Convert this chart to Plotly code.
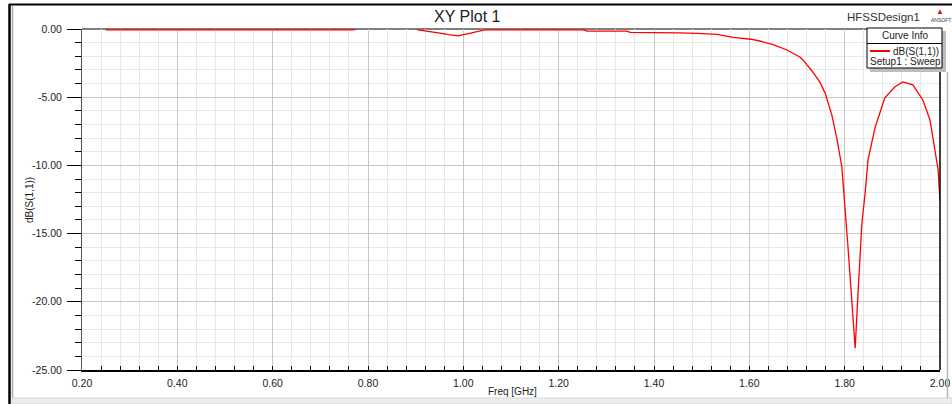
import plotly.graph_objects as go

# ---- data ----
freq_ghz = [0.25, 0.40, 0.60, 0.77, 0.785, 0.90, 0.905, 0.93, 0.951, 0.97, 0.989,
            1.008, 1.03, 1.045, 1.10, 1.20, 1.251, 1.26, 1.343, 1.35, 1.406, 1.45,
            1.49, 1.532, 1.566, 1.603, 1.622, 1.65, 1.679, 1.706, 1.7125,
            1.733, 1.748, 1.759, 1.773, 1.784, 1.794, 1.801, 1.807, 1.815, 1.822, 1.828,
            1.836, 1.843, 1.849, 1.864, 1.884, 1.905, 1.922, 1.943, 1.964, 1.979,
            1.989, 1.996, 2.00]
s11_db = [-0.07, -0.07, -0.07, -0.07, 0.2, 0.2, -0.07, -0.18, -0.30, -0.42, -0.50,
          -0.35, -0.15, -0.07, -0.06, -0.06, -0.06, -0.15, -0.16, -0.25, -0.25, -0.28,
          -0.32, -0.40, -0.62, -0.75, -0.88, -1.15, -1.54, -2.05, -2.27,
          -3.15, -3.90, -4.70, -6.30, -8.10, -10.10, -13.00, -16.00, -19.90, -23.40, -19.40,
          -14.30, -12.00, -9.60, -7.20, -5.06, -4.25, -3.88, -4.10, -5.20, -6.67,
          -8.65, -10.30, -12.60]

x_tickvals = [0.2, 0.4, 0.6, 0.8, 1.0, 1.2, 1.4, 1.6, 1.8, 2.0]
x_ticktext = ["0.20", "0.40", "0.60", "0.80", "1.00", "1.20", "1.40", "1.60", "1.80", "2.00"]
y_tickvals = [0, -5, -10, -15, -20, -25]
y_ticktext = ["0.00", "-5.00", "-10.00", "-15.00", "-20.00", "-25.00"]

series_name = "dB(S(1,1))"
setup_name = "Setup1 : Sweep"
title_text = "XY Plot 1"
design_name = "HFSSDesign1"

# ---- geometry helpers (pixel -> paper) ----
W, H = 952, 404
L, R, T, B = 82, 940, 29, 370


def px(x):
    return (x - L) / (R - L)


def py(y):
    return (B - y) / (B - T)


FONT = "Liberation Sans, Arial, sans-serif"

fig = go.Figure()
fig.add_trace(go.Scatter(
    x=freq_ghz, y=s11_db, mode="lines", name=series_name,
    line=dict(color="#ff0000", width=1.3), showlegend=False,
))

fig.update_layout(
    width=W, height=H,
    margin=dict(l=L, r=W - R, t=T, b=H - B, autoexpand=False),
    paper_bgcolor="white", plot_bgcolor="white",
    font=dict(family=FONT, size=10.5, color="#222"),
    showlegend=False,
)

fig.update_xaxes(
    range=[0.2, 2.0], tickvals=x_tickvals, ticktext=x_ticktext,
    showline=True, linecolor="#000", linewidth=2,
    ticks="inside", ticklen=4, tickcolor="#000",
    showgrid=True, gridcolor="#c6c6c6", gridwidth=1,
    zeroline=False, layer="below traces", ticklabelstandoff=2,
    minor=dict(dtick=0.04, tick0=0.2, ticks="inside", ticklen=4, tickcolor="#000",
               showgrid=True, gridcolor="#e8e8e8", gridwidth=1),
)
fig.update_yaxes(
    range=[-25, 0], tickvals=y_tickvals, ticktext=y_ticktext,
    showline=True, linecolor="#555", linewidth=1,
    ticks="outside", ticklen=14, tickcolor="#000", tickwidth=1.3,
    showgrid=True, gridcolor="#c6c6c6", gridwidth=1,
    zeroline=False, layer="below traces", ticklabelstandoff=3,
    minor=dict(dtick=1, ticks="outside", ticklen=6, tickcolor="#000", tickwidth=1,
               showgrid=True, gridcolor="#e8e8e8", gridwidth=1),
)

shapes = []
# outer frame
shapes.append(dict(type="line", xref="paper", yref="paper", x0=px(9), x1=px(952),
                   y0=py(4.5), y1=py(4.5), line=dict(color="#000", width=2)))
shapes.append(dict(type="line", xref="paper", yref="paper", x0=px(9.5), x1=px(9.5),
                   y0=py(4), y1=py(404), line=dict(color="#000", width=2.5)))
shapes.append(dict(type="line", xref="paper", yref="paper", x0=px(12.5), x1=px(12.5),
                   y0=py(6), y1=py(398), line=dict(color="#a8a8a8", width=1.5)))
shapes.append(dict(type="rect", xref="paper", yref="paper", x0=px(12), x1=px(952),
                   y0=py(404), y1=py(398), fillcolor="#eeeeee",
                   line=dict(color="#d6d6d6", width=1)))
shapes.append(dict(type="line", xref="paper", yref="paper", x0=px(947.5), x1=px(947.5),
                   y0=py(72), y1=py(398), line=dict(color="#b8b8b8", width=1.5)))
# plot top and right borders
shapes.append(dict(type="line", xref="paper", yref="paper", x0=0, x1=1, y0=1, y1=1,
                   line=dict(color="#000", width=1), layer="below"))
shapes.append(dict(type="line", xref="paper", yref="paper", x0=1, x1=1, y0=0, y1=1,
                   line=dict(color="#000", width=1.5)))
# legend box "Curve Info"
shapes.append(dict(type="rect", xref="paper", yref="paper", x0=px(870), x1=px(946),
                   y0=py(72), y1=py(31), fillcolor="#bdbdbd", line=dict(width=0)))
shapes.append(dict(type="rect", xref="paper", yref="paper", x0=px(867), x1=px(942),
                   y0=py(68), y1=py(28), fillcolor="white", line=dict(color="#000", width=1)))
shapes.append(dict(type="line", xref="paper", yref="paper", x0=px(867), x1=px(942),
                   y0=py(43.5), y1=py(43.5), line=dict(color="#000", width=1)))
shapes.append(dict(type="line", xref="paper", yref="paper", x0=px(870), x1=px(890),
                   y0=py(51), y1=py(51), line=dict(color="#ff0000", width=2)))
fig.update_layout(shapes=shapes)


def note(text, x, y, size, xanchor="center", angle=0, color="#222"):
    return dict(text=text, x=px(x), y=py(y), xref="paper", yref="paper",
                xanchor=xanchor, yanchor="middle", textangle=angle,
                showarrow=False, font=dict(size=size, color=color, family=FONT))


ann = [
    note(title_text, 467, 16.5, 16),
    note(design_name, 922, 16.5, 11.5, xanchor="right", color="#333"),
    note("▲", 940, 11, 8, color="#d42020"),
    note("ANSOFT", 941, 20, 5, color="#333"),
    note("Curve Info", 905, 35.5, 10),
    note(series_name, 941, 51, 10, xanchor="right"),
    note(setup_name, 868, 61, 10, xanchor="left"),
    note(series_name, 29, 200, 10, angle=-90),
    note("Freq [GHz]", 512, 391, 10),
]
fig.update_layout(annotations=ann)

fig.write_html("out.html", config={"displayModeBar": False},
               post_script="document.body.style.margin='0px';document.body.style.overflow='hidden';")
